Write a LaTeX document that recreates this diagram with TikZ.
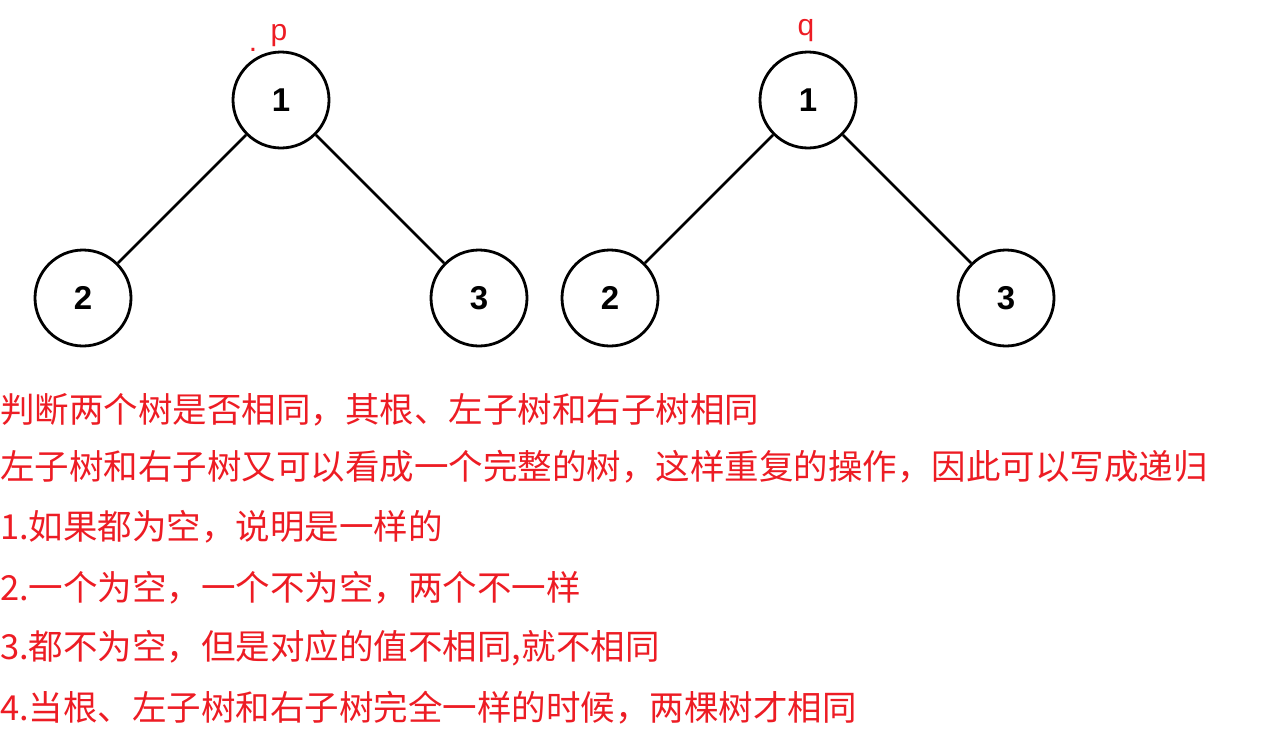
\documentclass[tikz,border=0pt]{standalone}
\usepackage{fontspec}
\newfontfamily\cjk{Noto Sans CJK SC}
\newfontfamily\lab{Liberation Sans}
\definecolor{txtred}{RGB}{237,28,36}
\begin{document}
\begin{tikzpicture}[x=1pt,y=-1pt,
  tn/.style={circle,draw=black,line width=2.8pt,minimum size=96pt,inner sep=0pt,fill=white,
    font=\lab\bfseries\fontsize{33}{33}\selectfont},
  edge/.style={line width=2.6pt,black},
  redlab/.style={text=txtred,font=\lab\fontsize{30}{30}\selectfont,inner sep=0pt},
  line/.style={anchor=west,text=txtred,font=\cjk\fontsize{34.5}{36}\selectfont,inner sep=0pt}]
\useasboundingbox (0,0) rectangle (1273,755);
% tree p
\node[tn] (p1) at (281,100) {1};
\node[tn] (p2) at (83,298) {2};
\node[tn] (p3) at (479,298) {3};
\draw[edge] (p1) -- (p2);
\draw[edge] (p1) -- (p3);
% tree q
\node[tn] (q1) at (808,100) {1};
\node[tn] (q2) at (610,298) {2};
\node[tn] (q3) at (1006,298) {3};
\draw[edge] (q1) -- (q2);
\draw[edge] (q1) -- (q3);
% labels
\node[redlab,anchor=base] (lp) at (279,40) {p};
\node[redlab,anchor=base] (ldot) at (253,51) {.};
\node[redlab,anchor=base] (lq) at (806,35) {q};
% text
\node[line] (t1) at (0,410) {判断两个树是否相同，其根、左子树和右子树相同};
\node[line] (t2) at (0,467) {左子树和右子树又可以看成一个完整的树，这样重复的操作，因此可以写成递归};
\node[line] (t3) at (0,527) {1.如果都为空，说明是一样的};
\node[line] (t4) at (0,588) {2.一个为空，一个不为空，两个不一样};
\node[line] (t5) at (0,648) {3.都不为空，但是对应的值不相同,就不相同};
\node[line] (t6) at (0,708) {4.当根、左子树和右子树完全一样的时候，两棵树才相同};
\end{tikzpicture}
\end{document}
